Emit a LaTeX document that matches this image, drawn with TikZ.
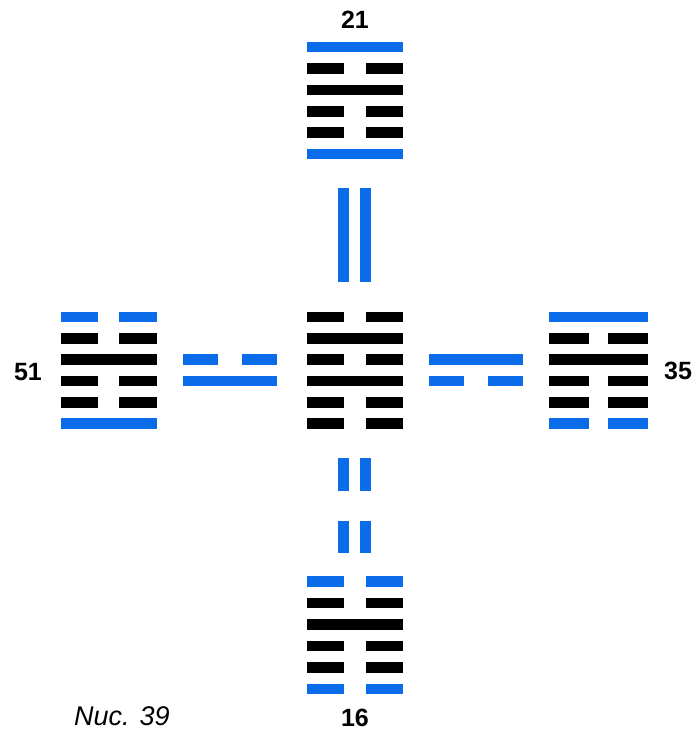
\documentclass[tikz,border=0pt]{standalone}
\usepackage{fontspec}
\setmainfont{Liberation Sans}
\definecolor{hexblue}{RGB}{10,108,232}
\definecolor{hexblack}{RGB}{0,0,0}
\newcommand\sbar[4]{\fill[#4] (#1,#3-5.3) rectangle (#2,#3+5.3);}
\newcommand\bbar[6]{\fill[#6] (#1,#5-5.3) rectangle (#2,#5+5.3); \fill[#6] (#3,#5-5.3) rectangle (#4,#5+5.3);}
\tikzset{numlabel/.style={font=\bfseries\fontsize{25}{25}\selectfont, inner sep=0pt},
  nuclabel/.style={font=\itshape\fontsize{27}{27}\selectfont, inner sep=0pt}}
\begin{document}
\begin{tikzpicture}[x=1pt,y=-1pt]
\useasboundingbox (0,0) rectangle (696,731);
\fill[white] (0,0) rectangle (696,731);
% top hexagram 21
\sbar{307}{403}{47}{hexblue}
\bbar{307}{344}{366}{403}{68.4}{hexblack}
\sbar{307}{403}{89.8}{hexblack}
\bbar{307}{344}{366}{403}{111.2}{hexblack}
\bbar{307}{344}{366}{403}{132.6}{hexblack}
\sbar{307}{403}{154}{hexblue}
% vertical solid pair
\fill[hexblue] (338,188) rectangle (349,282);
\fill[hexblue] (360,188) rectangle (371,282);
% center hexagram 39
\bbar{307}{344}{366}{403}{317}{hexblack}
\sbar{307}{403}{338.3}{hexblack}
\bbar{307}{344}{366}{403}{359.6}{hexblack}
\sbar{307}{403}{380.9}{hexblack}
\bbar{307}{344}{366}{403}{402.2}{hexblack}
\bbar{307}{344}{366}{403}{423.5}{hexblack}
% vertical broken pair
\fill[hexblue] (338,458) rectangle (349,491);
\fill[hexblue] (360,458) rectangle (371,491);
\fill[hexblue] (338,521) rectangle (349,553);
\fill[hexblue] (360,521) rectangle (371,553);
% bottom hexagram 16
\bbar{307}{344}{366}{403}{581.2}{hexblue}
\bbar{307}{344}{366}{403}{602.8}{hexblack}
\sbar{307}{403}{624.5}{hexblack}
\bbar{307}{344}{366}{403}{646}{hexblack}
\bbar{307}{344}{366}{403}{667.5}{hexblack}
\bbar{307}{344}{366}{403}{689}{hexblue}
% left hexagram 51
\bbar{61}{98}{119}{157}{317}{hexblue}
\bbar{61}{98}{119}{157}{338.3}{hexblack}
\sbar{61}{157}{359.6}{hexblack}
\bbar{61}{98}{119}{157}{380.9}{hexblack}
\bbar{61}{98}{119}{157}{402.2}{hexblack}
\sbar{61}{157}{423.5}{hexblue}
% left digram
\bbar{183}{218}{242}{277}{359.6}{hexblue}
\sbar{183}{277}{380.9}{hexblue}
% right digram
\sbar{429}{523}{359.6}{hexblue}
\bbar{429}{464}{488}{523}{380.9}{hexblue}
% right hexagram 35
\sbar{549}{648}{317}{hexblue}
\bbar{549}{589}{608}{648}{338.3}{hexblack}
\sbar{549}{648}{359.6}{hexblack}
\bbar{549}{589}{608}{648}{380.9}{hexblack}
\bbar{549}{589}{608}{648}{402.2}{hexblack}
\bbar{549}{589}{608}{648}{423.5}{hexblue}
% labels
\node[numlabel] (l21) at (355,20) {21};
\node[numlabel] (l16) at (355,718) {16};
\node[numlabel] (l51) at (28,372) {51};
\node[numlabel] (l35) at (678,371) {35};
\node[nuclabel] (nuc) at (122,716) {Nuc. 39};
\end{tikzpicture}
\end{document}
